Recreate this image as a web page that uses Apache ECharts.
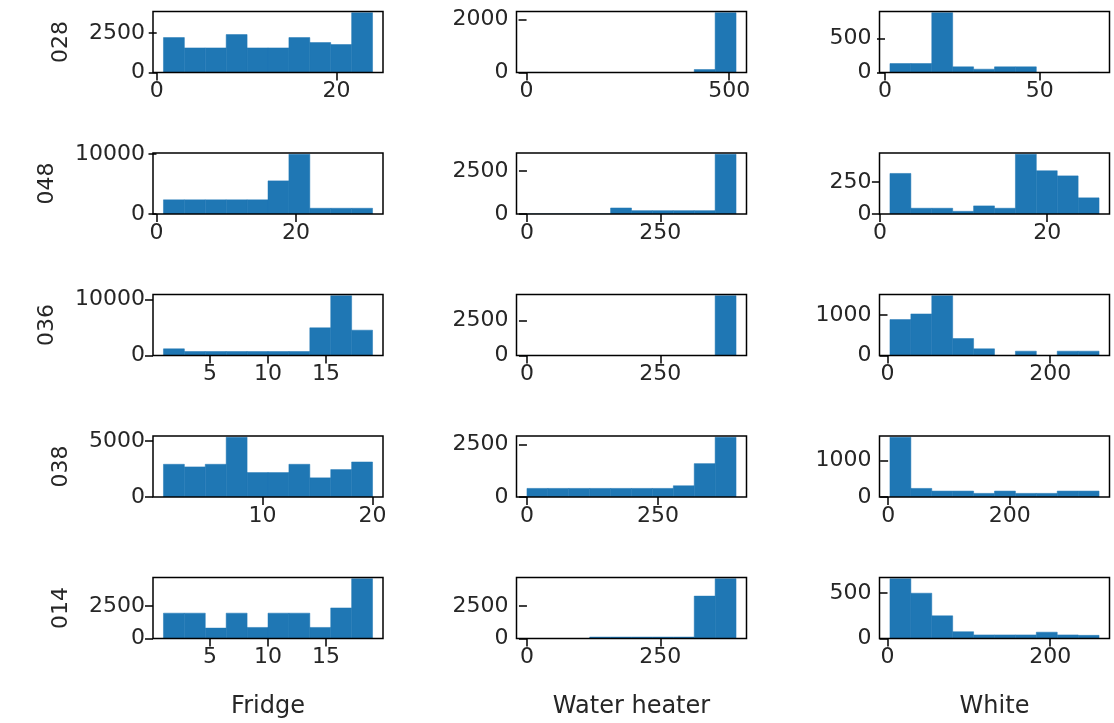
<!DOCTYPE html>
<html>
<head>
<meta charset="utf-8">
<script src="https://cdn.jsdelivr.net/npm/echarts@6/dist/echarts.min.js"></script>
<style>
  html, body { margin: 0; padding: 0; background: #fff; }
  #chart { width: 1114px; height: 723px; }
</style>
</head>
<body>
<div id="chart"></div>
<script>
// Meters (rows) and appliances (columns)
const meters = ['028', '048', '036', '038', '014'];
const appliances = ['Fridge', 'Water heater', 'White'];

// Histogram counts: 10 equal-width bins per panel, one row per meter
const fridgeCounts = [
  [2206, 1555, 1555, 2395, 1555, 1555, 2206, 1890, 1765, 3780],
  [2373, 2373, 2373, 2373, 2373, 5537, 10000, 960, 960, 960],
  [1190, 714, 714, 714, 714, 714, 714, 4940, 10680, 4524],
  [2929, 2692, 2929, 5355, 2189, 2189, 2929, 1716, 2456, 3136],
  [1950, 1950, 800, 1950, 850, 1950, 1950, 850, 2350, 4600]
];
const waterHeaterCounts = [
  [4, 0, 0, 0, 0, 0, 0, 0, 110, 2255],
  [0, 0, 0, 0, 349, 194, 194, 194, 194, 3469],
  [3, 0, 0, 0, 0, 0, 0, 0, 0, 4245],
  [409, 409, 409, 409, 409, 409, 409, 535, 1588, 2846],
  [0, 0, 0, 110, 110, 110, 110, 110, 3260, 4600]
];
const whiteCounts = [
  [132, 132, 882, 83, 49, 83, 83, 0, 0, 2],
  [316, 45, 45, 21, 63, 45, 466, 337, 297, 126],
  [885, 1025, 1475, 418, 164, 0, 107, 0, 107, 107],
  [1630, 234, 162, 162, 99, 162, 99, 99, 162, 162],
  [660, 500, 250, 75, 40, 40, 40, 70, 40, 35]
];

// [first bin edge, last bin edge] per panel
const fridgeRanges = [[0.75, 24], [1, 31], [1, 19], [1, 20], [1, 19]];
const waterHeaterRanges = [[1, 517], [0, 392], [0, 392], [0, 399], [0, 392]];
const whiteRanges = [[1.6, 69.2], [1.2, 26.2], [3, 260], [3, 347], [3, 260]];

// Tick labels
const fridgeXTicks = [[0, 20], [0, 20], [5, 10, 15], [10, 20], [5, 10, 15]];
const waterHeaterXTicks = [[0, 500], [0, 250], [0, 250], [0, 250], [0, 250]];
const whiteXTicks = [[0, 50], [0, 20], [0, 200], [0, 200], [0, 200]];
const fridgeYTicks = [[0, 2500], [0, 10000], [0, 10000], [0, 5000], [0, 2500]];
const waterHeaterYTicks = [[0, 2000], [0, 2500], [0, 2500], [0, 2500], [0, 2500]];
const whiteYTicks = [[0, 500], [0, 250], [0, 1000], [0, 1000], [0, 500]];

const columns = [
  { counts: fridgeCounts, ranges: fridgeRanges, xTicks: fridgeXTicks, yTicks: fridgeYTicks },
  { counts: waterHeaterCounts, ranges: waterHeaterRanges, xTicks: waterHeaterXTicks, yTicks: waterHeaterYTicks },
  { counts: whiteCounts, ranges: whiteRanges, xTicks: whiteXTicks, yTicks: whiteYTicks }
];

// Layout of the 5 x 3 panel grid (px)
const gridLefts = [153, 516.5, 879.5];
const gridTops = [11.5, 153, 294.5, 436, 577.5];
const gridW = 230, gridH = 61;

const FONT = 'DejaVu Sans';
const FS = 22;
const NAME_FS = 24;
const TEXT = '#262626';
const BAR = '#1f77b4';
const TICK_LEN = 8, TICK_PAD = 8, LABEL_PAD = 9;

const measureCtx = document.createElement('canvas').getContext('2d');
measureCtx.font = FS + 'px "' + FONT + '"';
const textWidth = s => measureCtx.measureText(s).width;
const plain = v => String(v);

const grids = [], xAxes = [], yAxes = [], series = [];

meters.forEach((meter, r) => {
  columns.forEach((col, c) => {
    const idx = grids.length;
    const [lo, hi] = col.ranges[r];
    const counts = col.counts[r];
    const span = hi - lo;
    const binW = span / counts.length;
    const yMax = Math.max(...counts) * 1.02;

    grids.push({
      left: gridLefts[c], top: gridTops[r], width: gridW, height: gridH,
      show: true, borderColor: '#000', borderWidth: 1.5, z: 5,
      backgroundColor: 'transparent', containLabel: false
    });

    const isBottom = r === meters.length - 1;
    xAxes.push({
      type: 'value', gridIndex: idx,
      min: lo - 0.05 * span, max: hi + 0.05 * span,
      axisLine: { show: false },
      splitLine: { show: false },
      axisTick: { show: true, length: TICK_LEN, lineStyle: { color: '#000', width: 1.5 }, customValues: col.xTicks[r] },
      axisLabel: { show: true, margin: TICK_PAD, color: TEXT, fontFamily: FONT, fontSize: FS, formatter: plain, customValues: col.xTicks[r] },
      name: isBottom ? appliances[c] : '',
      nameLocation: 'middle', nameGap: 56,
      nameTextStyle: { color: TEXT, fontFamily: FONT, fontSize: NAME_FS }
    });

    const widest = Math.max(...col.yTicks[r].map(v => textWidth(String(v))));
    yAxes.push({
      type: 'value', gridIndex: idx,
      min: 0, max: yMax,
      axisLine: { show: false },
      splitLine: { show: false },
      axisTick: { show: true, length: TICK_LEN, lineStyle: { color: '#000', width: 1.5 }, customValues: col.yTicks[r] },
      axisLabel: { show: true, margin: TICK_PAD, color: TEXT, fontFamily: FONT, fontSize: FS, formatter: plain, customValues: col.yTicks[r] },
      name: c === 0 ? meter : '',
      nameLocation: 'middle', nameRotate: 90,
      nameGap: TICK_LEN + TICK_PAD + widest + LABEL_PAD,
      nameTextStyle: { color: TEXT, fontFamily: FONT, fontSize: FS }
    });

    series.push({
      type: 'custom', xAxisIndex: idx, yAxisIndex: idx, clip: true, z: 2,
      data: counts.map((n, i) => [lo + i * binW, lo + (i + 1) * binW, n]),
      encode: { x: [0, 1], y: 2 },
      renderItem: (params, api) => {
        const topLeft = api.coord([api.value(0), api.value(2)]);
        const bottomRight = api.coord([api.value(1), 0]);
        return {
          type: 'rect',
          shape: {
            x: topLeft[0], y: topLeft[1],
            width: bottomRight[0] - topLeft[0],
            height: bottomRight[1] - topLeft[1]
          },
          style: { fill: BAR, stroke: BAR, lineWidth: 0.5 }
        };
      }
    });
  });
});

const chart = echarts.init(document.getElementById('chart'), null, { renderer: 'canvas' });
chart.setOption({
  animation: false,
  backgroundColor: '#fff',
  grid: grids,
  xAxis: xAxes,
  yAxis: yAxes,
  series: series
});
</script>
</body>
</html>
